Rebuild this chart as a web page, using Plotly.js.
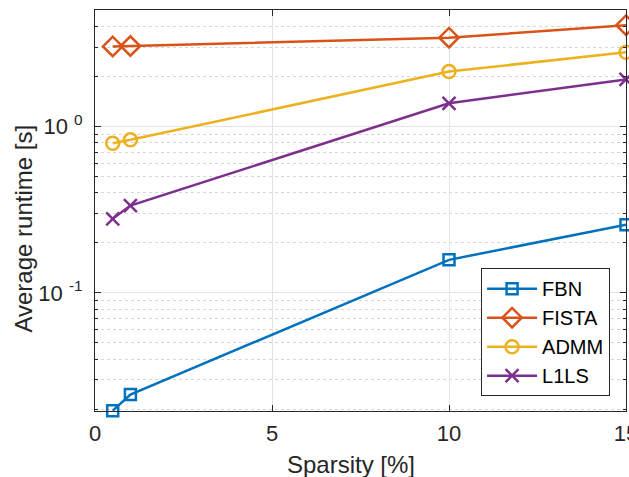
<!DOCTYPE html>
<html>
<head>
<meta charset="utf-8">
<script src="https://cdn.plot.ly/plotly-3.0.1.min.js"></script>
<style>html,body{margin:0;padding:0;background:#fff;}#chart{width:629px;height:477px;}</style>
</head>
<body>
<div id="chart"></div>
<script>
const sparsity = [0.5, 1, 10, 15];
const seriesNames = ["FBN", "FISTA", "ADMM", "L1LS"];
const fbn   = [0.0196, 0.0245, 0.158, 0.257];
const fista = [3.03, 3.05, 3.42, 4.07];
const admm  = [0.794, 0.832, 2.14, 2.80];
const l1ls  = [0.279, 0.335, 1.38, 1.92];
const xTickVals = [0, 5, 10, 15];
const yTickVals = [0.1, 1];
const yTickText = ["10\u00a0<sup>-1</sup>", "10\u00a0<sup>0</sup>"];
const yMinorVals = [0.02,0.03,0.04,0.05,0.06,0.07,0.08,0.09,0.2,0.3,0.4,0.5,0.6,0.7,0.8,0.9,2,3,4,5];
const xTitle = "Sparsity [%]";
const yTitle = "Average runtime [s]";

const colors = ["#0072BD", "#D95319", "#EDB120", "#7E2F8E"];
const symbols = ["square-open", "diamond-open", "circle-open", "x-thin-open"];
const sizes = [11, 15, 13, 13];
const allY = [fbn, fista, admm, l1ls];

const traces = allY.map((ys, i) => ({
  x: sparsity, y: ys, name: seriesNames[i], type: "scatter", mode: "lines+markers",
  cliponaxis: false,
  line: {color: colors[i], width: 2.5},
  marker: {symbol: symbols[i], size: sizes[i], color: colors[i], line: {color: colors[i], width: 2.5}}
}));

const FAM = "Liberation Sans, Arial, sans-serif";
const axisFont = {family: FAM, size: 22, color: "#262626"};
const titleFont = {family: FAM, size: 24, color: "#262626"};
const layout = {
  width: 629, height: 477,
  margin: {l: 95, r: 3, t: 10, b: 66},
  paper_bgcolor: "#fff", plot_bgcolor: "#fff",
  showlegend: true,
  xaxis: {
    range: [0, 15], tickvals: xTickVals, ticktext: xTickVals.map(String),
    ticks: "inside", ticklen: 6, tickcolor: "#262626", tickwidth: 1,
    showline: true, linecolor: "#262626", linewidth: 1, mirror: "ticks",
    showgrid: true, gridcolor: "#e3e3e3", gridwidth: 1, zeroline: false,
    tickfont: axisFont, ticklabeloverflow: "allow", ticklabelstandoff: 3
  },
  yaxis: {
    type: "log", range: [Math.log10(0.0195), Math.log10(5.02)],
    tickvals: yTickVals, ticktext: yTickText,
    ticks: "inside", ticklen: 6, tickcolor: "#262626", tickwidth: 1,
    showline: true, linecolor: "#262626", linewidth: 1, mirror: "ticks",
    showgrid: true, gridcolor: "#e3e3e3", gridwidth: 1, zeroline: false,
    tickfont: axisFont, ticklabelstandoff: 7,
    minor: {tickvals: yMinorVals, ticks: "inside", ticklen: 3, tickcolor: "#262626", showgrid: true, gridcolor: "#d6d6d6", griddash: "dot", gridwidth: 1}
  },
  legend: {
    x: 0.97, y: 0.037, xanchor: "right", yanchor: "bottom",
    bgcolor: "#fff", bordercolor: "#262626", borderwidth: 1,
    font: {family: FAM, size: 20, color: "#000"},
    itemwidth: 50, tracegroupgap: 0
  },
  annotations: [{
    text: xTitle, xref: "paper", yref: "paper", x: 0.482, y: 0, yshift: -38,
    xanchor: "center", yanchor: "top", showarrow: false, font: titleFont
  }, {
    text: yTitle, xref: "paper", yref: "paper", x: -0.1337, y: 0.455, textangle: -90,
    xanchor: "center", yanchor: "middle", showarrow: false, font: titleFont
  }]
};

Plotly.newPlot("chart", traces, layout, {displayModeBar: false, staticPlot: true});
</script>
</body>
</html>
